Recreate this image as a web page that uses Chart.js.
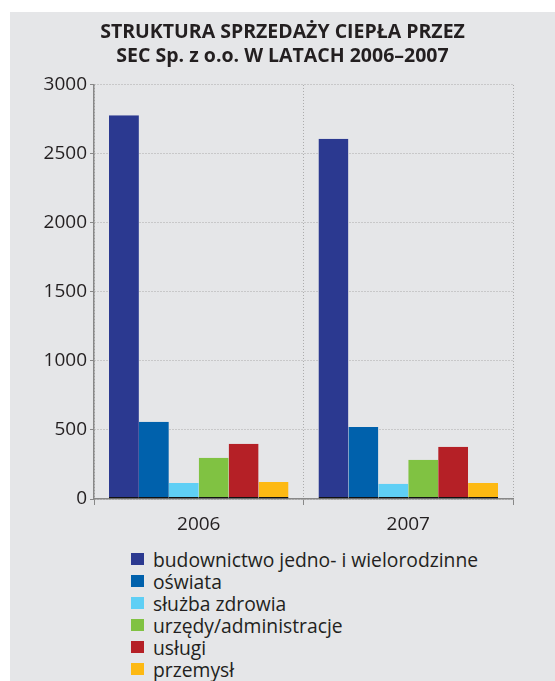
<!DOCTYPE html>
<html>
<head>
<meta charset="utf-8">
<script src="https://cdn.jsdelivr.net/npm/chart.js@4/dist/chart.umd.min.js"></script>
<style>
  html, body { margin: 0; padding: 0; background: #ffffff; width: 555px; height: 681px; overflow: hidden; }
  #panel { position: absolute; left: 10px; top: 12px; width: 545px; height: 669px; background: #E5E6E8; }
  #wrap { position: absolute; left: 0; top: 0; width: 545px; height: 528px; }
  #legend { position: absolute; left: 121px; top: 536px; font-family: "Open Sans", sans-serif; font-size: 19.3px; color: #231F20; }
  .item { display: flex; align-items: center; height: 22px; }
  .box { width: 13px; height: 12px; margin-right: 9px; }
</style>
</head>
<body>
<div id="panel">
  <div id="wrap"><canvas id="c"></canvas></div>
  <div id="legend"></div>
</div>
<script>
const titleLines = ["STRUKTURA SPRZEDAŻY CIEPŁA PRZEZ", "SEC Sp. z o.o. W LATACH 2006–2007"];
const years = ["2006", "2007"];
const seriesNames = ["budownictwo jedno- i wielorodzinne", "oświata", "służba zdrowia", "urzędy/administracje", "usługi", "przemysł"];
const budownictwo = [2780, 2610];
const oswiata = [560, 522];
const sluzbaZdrowia = [116, 110];
const urzedy = [298, 284];
const uslugi = [400, 378];
const przemysl = [124, 116];
const seriesColors = ["#2B3990", "#0061AC", "#5FCFF5", "#80C242", "#B52026", "#FDB913"];
const yTicks = [0, 500, 1000, 1500, 2000, 2500, 3000];

const seriesValues = [budownictwo, oswiata, sluzbaZdrowia, urzedy, uslugi, przemysl];

const datasets = seriesNames.map((name, i) => ({
  label: name,
  data: seriesValues[i],
  backgroundColor: seriesColors[i],
  borderColor: "#111111",
  borderWidth: { top: 0, left: 0, right: 0, bottom: 1.5 },
  borderSkipped: false,
  barPercentage: 1.0,
  categoryPercentage: 0.857
}));

const fontFam = '"Open Sans", sans-serif';

new Chart(document.getElementById("c"), {
  type: "bar",
  data: { labels: years, datasets: datasets },
  options: {
    responsive: true,
    maintainAspectRatio: false,
    animation: false,
    layout: { padding: 0 },
    plugins: {
      legend: { display: false },
      tooltip: { enabled: false },
      title: {
        display: true,
        text: titleLines,
        color: "#231F20",
        font: { family: fontFam, size: 19.5, weight: "bold", lineHeight: 1.256 },
        padding: { top: 8, bottom: 16 }
      }
    },
    scales: {
      x: {
        grid: { display: true, offset: true, color: "#AAAAAA", tickColor: "#888888", tickLength: 6, drawOnChartArea: true },
        border: { display: true, color: "#888888", width: 1.5, dash: [1, 2] },
        ticks: { color: "#231F20", font: { family: fontFam, size: 19 }, padding: 8 },
        afterFit: (s) => { s.height = 41; }
      },
      y: {
        min: 0,
        max: 3000,
        afterBuildTicks: (s) => { s.ticks = yTicks.map(v => ({ value: v })); },
        grid: { color: "#AAAAAA", tickColor: "#888888", tickLength: 4, tickBorderDash: [] },
        border: { display: true, color: "#888888", width: 1.5, dash: [1, 2] },
        ticks: { color: "#231F20", font: { family: fontFam, size: 19 }, padding: 3, callback: (v) => String(v) },
        afterFit: (s) => { s.width = 84; }
      },
      yRight: {
        position: "right",
        min: 0,
        max: 3000,
        grid: { display: false, drawOnChartArea: false },
        border: { display: false },
        ticks: { display: false },
        afterFit: (s) => { s.width = 42; }
      }
    }
  }
});

const legend = document.getElementById("legend");
seriesNames.forEach((name, i) => {
  const row = document.createElement("div");
  row.className = "item";
  const box = document.createElement("span");
  box.className = "box";
  box.style.background = seriesColors[i];
  const txt = document.createElement("span");
  txt.textContent = name;
  row.appendChild(box);
  row.appendChild(txt);
  legend.appendChild(row);
});
</script>
</body>
</html>
